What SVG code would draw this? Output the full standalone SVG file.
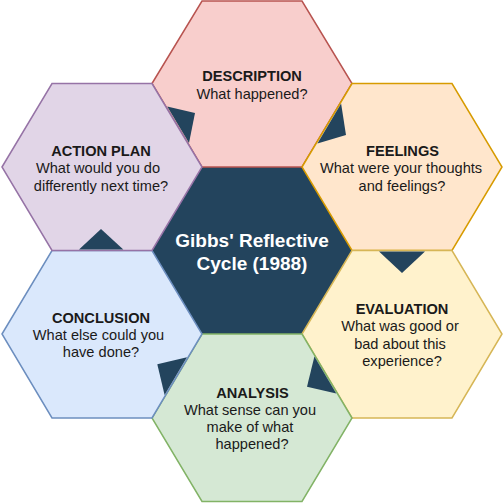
<svg xmlns="http://www.w3.org/2000/svg" width="503" height="503" viewBox="0 0 503 503">
<style>
.hex{stroke-width:1.5}
.t{font-family:"Liberation Sans",Arial,Helvetica,sans-serif;font-size:14.6px;fill:#1a1a1a;text-anchor:middle}
.b{font-weight:bold}
.c{font-family:"Liberation Sans",Arial,Helvetica,sans-serif;font-size:19px;font-weight:bold;fill:#ffffff;text-anchor:middle}
.arr{fill:#23445D}
</style>
<rect width="503" height="503" fill="#ffffff"/>
<g id="center">
<polygon points="152,250.5 202,167 302,167 352,250.5 302,334 202,334" fill="#23445D" stroke="#23445D" stroke-width="1"/>
<text class="c" x="252" y="247">Gibbs' Reflective</text>
<text class="c" x="252" y="270">Cycle (1988)</text>
</g>
<g id="description">
<polygon class="hex" points="152,83.5 202,1 302,1 352,83.5 302,167 202,167" fill="#F8CECC" stroke="#B85450"/>
<text class="t b" x="252" y="81">DESCRIPTION</text>
<text class="t" x="252" y="98.5">What happened?</text>
</g>
<g id="feelings">
<polygon class="hex" points="302,167 352,83.5 452,83.5 502,167 452,250.5 352,250.5" fill="#FFE6CC" stroke="#D79B00"/>
<text class="t b" x="402.5" y="156">FEELINGS</text>
<text class="t" x="401" y="173.3">What were your thoughts</text>
<text class="t" x="402" y="190.6">and feelings?</text>
</g>
<g id="evaluation">
<polygon class="hex" points="302,334 352,250.5 452,250.5 502,334 452,418 352,418" fill="#FFF2CC" stroke="#D6B656"/>
<text class="t b" x="402" y="314">EVALUATION</text>
<text class="t" x="400" y="331.3">What was good or</text>
<text class="t" x="400" y="348.6">bad about this</text>
<text class="t" x="402" y="365.9">experience?</text>
</g>
<g id="analysis">
<polygon class="hex" points="152,418 202,334 302,334 352,418 302,501.5 202,501.5" fill="#D5E8D4" stroke="#82B366"/>
<text class="t b" x="252.5" y="397.5">ANALYSIS</text>
<text class="t" x="250" y="414.8">What sense can you</text>
<text class="t" x="250" y="432.1">make of what</text>
<text class="t" x="252" y="449.4">happened?</text>
</g>
<g id="conclusion">
<polygon class="hex" points="2,334 52,250.5 152,250.5 202,334 152,418 52,418" fill="#DAE8FC" stroke="#6C8EBF"/>
<text class="t b" x="101" y="322.5">CONCLUSION</text>
<text class="t" x="98.5" y="339.8">What else could you</text>
<text class="t" x="101" y="357.1">have done?</text>
</g>
<g id="action-plan">
<polygon class="hex" points="2,167 52,83.5 152,83.5 202,167 152,250.5 52,250.5" fill="#E1D5E7" stroke="#9673A6"/>
<text class="t b" x="101" y="156">ACTION PLAN</text>
<text class="t" x="98" y="173.3">What would you do</text>
<text class="t" x="101" y="190.6">differently next time?</text>
</g>
<g id="connectors">
<polygon class="arr" points="167.2,106.5 195,113 189,143"/>
<polygon class="arr" points="341.1,103.5 346,135 317.4,143.5"/>
<polygon class="arr" points="379,251.6 425,251.6 402,273"/>
<polygon class="arr" points="314.4,356.5 307,386.7 336.3,393.5"/>
<polygon class="arr" points="157.3,364.3 187,357.3 164.6,395"/>
<polygon class="arr" points="79,249.4 123.3,249.4 101,229"/>
</g>
</svg>
